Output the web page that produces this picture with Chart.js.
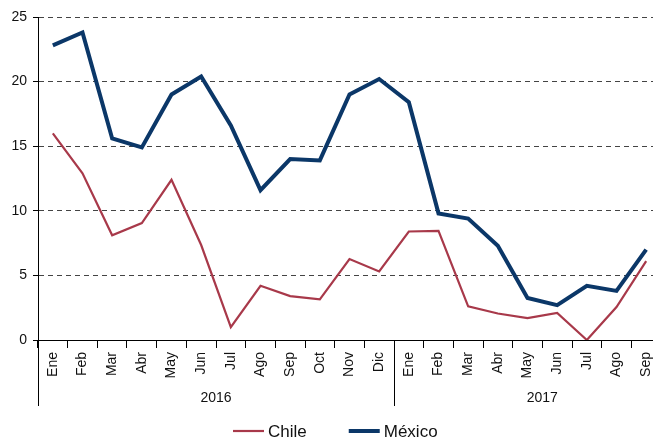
<!DOCTYPE html>
<html lang="es">
<head>
    <meta charset="UTF-8">
    <title>Chile y México</title>
    <script src="https://cdn.jsdelivr.net/npm/chart.js@4.4.0/dist/chart.umd.min.js"></script>
    <style>
        html, body { margin: 0; padding: 0; overflow: hidden; background: #fff; }
        #caja { width: 661px; height: 438px; }
    </style>
</head>
<body>

    <div id="caja"><canvas id="grafico"></canvas></div>

    <script>
        // datos
        const meses = ['Ene', 'Feb', 'Mar', 'Abr', 'May', 'Jun', 'Jul', 'Ago', 'Sep', 'Oct', 'Nov', 'Dic',
                       'Ene', 'Feb', 'Mar', 'Abr', 'May', 'Jun', 'Jul', 'Ago', 'Sep'];
        const anios = ['2016', '2017'];
        const chile = [16.0, 12.9, 8.1, 9.05, 12.4, 7.35, 1.0, 4.2, 3.4, 3.15, 6.27, 5.3,
                       8.4, 8.45, 2.6, 2.05, 1.7, 2.1, 0, 2.55, 6.1];
        const mexico = [22.8, 23.8, 15.6, 14.9, 19.0, 20.4, 16.6, 11.6, 14.0, 13.9, 19.0, 20.2,
                        18.4, 9.8, 9.4, 7.3, 3.25, 2.7, 4.2, 3.8, 7.0];

        const fuente = "'Liberation Sans', Arial, sans-serif";
        Chart.defaults.font.family = fuente;

        // lineas bajo el eje, años y leyenda
        const extras = {
            id: 'extras',
            afterDraw(chart) {
                const ctx = chart.ctx;
                const area = chart.chartArea;
                const x = chart.scales.x;
                const sep = (x.getPixelForValue(11) + x.getPixelForValue(12)) / 2;

                ctx.save();
                ctx.strokeStyle = '#000';
                ctx.lineWidth = 1;
                [area.left, sep].forEach(px => {
                    const p = Math.round(px) + 0.5;
                    ctx.beginPath();
                    ctx.moveTo(p, area.bottom);
                    ctx.lineTo(p, 406);
                    ctx.stroke();
                });

                ctx.fillStyle = '#111';
                ctx.font = '14px ' + fuente;
                ctx.textAlign = 'center';
                ctx.textBaseline = 'middle';
                ctx.fillText(anios[0], (x.getPixelForValue(0) + x.getPixelForValue(11)) / 2, 398);
                ctx.fillText(anios[1], (x.getPixelForValue(16) + x.getPixelForValue(17)) / 2, 398);

                // leyenda
                ctx.font = '17px ' + fuente;
                ctx.textAlign = 'left';
                let lx = 233;
                chart.data.datasets.forEach(ds => {
                    ctx.strokeStyle = ds.borderColor;
                    ctx.lineWidth = ds.borderWidth;
                    ctx.beginPath();
                    ctx.moveTo(lx, 431);
                    ctx.lineTo(lx + 31, 431);
                    ctx.stroke();
                    ctx.fillStyle = '#111';
                    ctx.fillText(ds.label, lx + 35, 432);
                    lx += 35 + ctx.measureText(ds.label).width + 42;
                });
                ctx.restore();
            }
        };

        const ctx = document.getElementById('grafico').getContext('2d');
        const myChart = new Chart(ctx, {
            type: 'line',
            data: {
                labels: meses,
                datasets: [{
                    label: 'Chile',
                    data: chile,
                    borderColor: '#a8394a',
                    borderWidth: 2.2,
                    pointRadius: 0,
                    borderJoinStyle: 'miter',
                    tension: 0,
                    fill: false
                }, {
                    label: 'México',
                    data: mexico,
                    borderColor: '#0b3768',
                    borderWidth: 4,
                    pointRadius: 0,
                    borderJoinStyle: 'miter',
                    tension: 0,
                    fill: false
                }]
            },
            plugins: [extras],
            options: {
                responsive: true,
                maintainAspectRatio: false,
                animation: false,
                layout: { padding: { top: 17, right: 0, bottom: 0, left: 0 } },
                plugins: {
                    legend: { display: false },
                    tooltip: { enabled: false }
                },
                scales: {
                    x: {
                        offset: true,
                        afterFit(scale) {
                            scale.height = 98;
                            scale.paddingLeft = 0;
                            scale.paddingRight = 0;
                        },
                        grid: {
                            offset: true,
                            drawOnChartArea: false,
                            drawTicks: true,
                            tickLength: 8,
                            color: '#000',
                            lineWidth: 1
                        },
                        border: { color: '#000', width: 1 },
                        ticks: {
                            autoSkip: false,
                            minRotation: 90,
                            maxRotation: 90,
                            padding: 4,
                            color: '#111',
                            font: { size: 14 }
                        }
                    },
                    y: {
                        min: 0,
                        max: 25,
                        afterFit(scale) {
                            scale.width = 38;
                            scale.paddingTop = 0;
                            scale.paddingBottom = 0;
                        },
                        grid: {
                            color: c => c.tick && c.tick.value === 0 ? 'rgba(0,0,0,0)' : '#444',
                            tickColor: '#000',
                            tickLength: 5,
                            tickBorderDash: [],
                            lineWidth: 1
                        },
                        border: { color: '#000', width: 1, dash: [5, 4] },
                        ticks: {
                            stepSize: 5,
                            padding: 6,
                            color: '#111',
                            font: { size: 14 }
                        }
                    }
                }
            }
        });
    </script>

</body>
</html>
